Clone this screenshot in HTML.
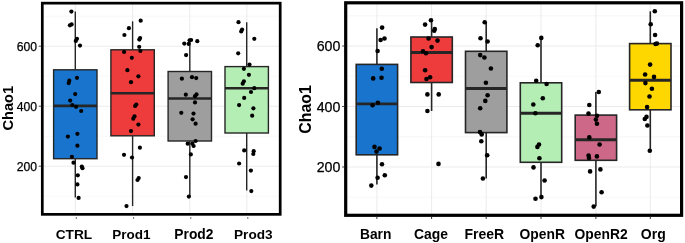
<!DOCTYPE html>
<html lang="en"><head><meta charset="utf-8"><title>Chao1 boxplots</title>
<style>html,body{margin:0;padding:0;background:#fff}svg{display:block}text{font-family:"Liberation Sans",Arial,sans-serif}</style></head><body>
<svg width="685" height="243" viewBox="0 0 685 243">
<rect width="685" height="243" fill="#fff"/>
<line x1="42.3" x2="280.2" y1="196.2" y2="196.2" stroke="#efefef" stroke-width="0.5"/>
<line x1="42.3" x2="280.2" y1="136.2" y2="136.2" stroke="#efefef" stroke-width="0.5"/>
<line x1="42.3" x2="280.2" y1="76.2" y2="76.2" stroke="#efefef" stroke-width="0.5"/>
<line x1="42.3" x2="280.2" y1="16.2" y2="16.2" stroke="#efefef" stroke-width="0.5"/>
<line x1="42.3" x2="280.2" y1="166.2" y2="166.2" stroke="#e6e6e6" stroke-width="0.8"/>
<line x1="42.3" x2="280.2" y1="106.2" y2="106.2" stroke="#e6e6e6" stroke-width="0.8"/>
<line x1="42.3" x2="280.2" y1="46.2" y2="46.2" stroke="#e6e6e6" stroke-width="0.8"/>
<line x1="75.3" x2="75.3" y1="3.15" y2="214.4" stroke="#e6e6e6" stroke-width="0.8"/>
<line x1="132.6" x2="132.6" y1="3.15" y2="214.4" stroke="#e6e6e6" stroke-width="0.8"/>
<line x1="189.8" x2="189.8" y1="3.15" y2="214.4" stroke="#e6e6e6" stroke-width="0.8"/>
<line x1="246.8" x2="246.8" y1="3.15" y2="214.4" stroke="#e6e6e6" stroke-width="0.8"/>
<line x1="345.7" x2="681.6" y1="197.2" y2="197.2" stroke="#efefef" stroke-width="0.5"/>
<line x1="345.7" x2="681.6" y1="136.8" y2="136.8" stroke="#efefef" stroke-width="0.5"/>
<line x1="345.7" x2="681.6" y1="76.2" y2="76.2" stroke="#efefef" stroke-width="0.5"/>
<line x1="345.7" x2="681.6" y1="15.8" y2="15.8" stroke="#efefef" stroke-width="0.5"/>
<line x1="345.7" x2="681.6" y1="167.0" y2="167.0" stroke="#e6e6e6" stroke-width="0.8"/>
<line x1="345.7" x2="681.6" y1="106.5" y2="106.5" stroke="#e6e6e6" stroke-width="0.8"/>
<line x1="345.7" x2="681.6" y1="46.0" y2="46.0" stroke="#e6e6e6" stroke-width="0.8"/>
<line x1="376.9" x2="376.9" y1="2.8" y2="215.3" stroke="#e6e6e6" stroke-width="0.8"/>
<line x1="431.6" x2="431.6" y1="2.8" y2="215.3" stroke="#e6e6e6" stroke-width="0.8"/>
<line x1="486.2" x2="486.2" y1="2.8" y2="215.3" stroke="#e6e6e6" stroke-width="0.8"/>
<line x1="541.0" x2="541.0" y1="2.8" y2="215.3" stroke="#e6e6e6" stroke-width="0.8"/>
<line x1="595.9" x2="595.9" y1="2.8" y2="215.3" stroke="#e6e6e6" stroke-width="0.8"/>
<line x1="650.3" x2="650.3" y1="2.8" y2="215.3" stroke="#e6e6e6" stroke-width="0.8"/>
<line x1="75.3" x2="75.3" y1="11.5" y2="69.8" stroke="#262626" stroke-width="1.4"/>
<line x1="75.3" x2="75.3" y1="158.7" y2="197.6" stroke="#262626" stroke-width="1.4"/>
<rect x="53.6" y="69.8" width="43.4" height="88.9" fill="#1874CD" stroke="#262626" stroke-width="1.4"/>
<line x1="53.6" x2="97.0" y1="105.9" y2="105.9" stroke="#262626" stroke-width="2.6"/>
<line x1="132.6" x2="132.6" y1="21.3" y2="49.8" stroke="#262626" stroke-width="1.4"/>
<line x1="132.6" x2="132.6" y1="135.8" y2="206.0" stroke="#262626" stroke-width="1.4"/>
<rect x="110.9" y="49.8" width="43.4" height="86.0" fill="#EE3B3B" stroke="#262626" stroke-width="1.4"/>
<line x1="110.9" x2="154.3" y1="93.2" y2="93.2" stroke="#262626" stroke-width="2.6"/>
<line x1="189.8" x2="189.8" y1="40.0" y2="71.5" stroke="#262626" stroke-width="1.4"/>
<line x1="189.8" x2="189.8" y1="141.0" y2="196.5" stroke="#262626" stroke-width="1.4"/>
<rect x="168.1" y="71.5" width="43.4" height="69.5" fill="#9E9E9E" stroke="#262626" stroke-width="1.4"/>
<line x1="168.1" x2="211.5" y1="98.5" y2="98.5" stroke="#262626" stroke-width="2.6"/>
<line x1="246.7" x2="246.7" y1="22.2" y2="66.6" stroke="#262626" stroke-width="1.4"/>
<line x1="246.7" x2="246.7" y1="133.0" y2="190.4" stroke="#262626" stroke-width="1.4"/>
<rect x="225.0" y="66.6" width="43.4" height="66.4" fill="#B4EEB4" stroke="#262626" stroke-width="1.4"/>
<line x1="225.0" x2="268.4" y1="88.2" y2="88.2" stroke="#262626" stroke-width="2.6"/>
<line x1="376.9" x2="376.9" y1="28.2" y2="64.4" stroke="#262626" stroke-width="1.6"/>
<line x1="376.9" x2="376.9" y1="154.8" y2="184.4" stroke="#262626" stroke-width="1.6"/>
<rect x="356.2" y="64.4" width="41.4" height="90.4" fill="#1874CD" stroke="#262626" stroke-width="1.6"/>
<line x1="356.2" x2="397.6" y1="103.9" y2="103.9" stroke="#262626" stroke-width="2.9"/>
<line x1="431.6" x2="431.6" y1="20.7" y2="37.0" stroke="#262626" stroke-width="1.6"/>
<line x1="431.6" x2="431.6" y1="82.5" y2="111.0" stroke="#262626" stroke-width="1.6"/>
<rect x="410.9" y="37.0" width="41.4" height="45.5" fill="#EE3B3B" stroke="#262626" stroke-width="1.6"/>
<line x1="410.9" x2="452.3" y1="52.5" y2="52.5" stroke="#262626" stroke-width="2.9"/>
<line x1="486.2" x2="486.2" y1="22.2" y2="51.3" stroke="#262626" stroke-width="1.6"/>
<line x1="486.2" x2="486.2" y1="132.6" y2="178.5" stroke="#262626" stroke-width="1.6"/>
<rect x="465.5" y="51.3" width="41.4" height="81.3" fill="#9E9E9E" stroke="#262626" stroke-width="1.6"/>
<line x1="465.5" x2="506.9" y1="88.5" y2="88.5" stroke="#262626" stroke-width="2.9"/>
<line x1="541.0" x2="541.0" y1="37.9" y2="82.8" stroke="#262626" stroke-width="1.6"/>
<line x1="541.0" x2="541.0" y1="162.3" y2="197.5" stroke="#262626" stroke-width="1.6"/>
<rect x="520.3" y="82.8" width="41.4" height="79.5" fill="#B4EEB4" stroke="#262626" stroke-width="1.6"/>
<line x1="520.3" x2="561.7" y1="113.3" y2="113.3" stroke="#262626" stroke-width="2.9"/>
<line x1="595.9" x2="595.9" y1="92.0" y2="115.1" stroke="#262626" stroke-width="1.6"/>
<line x1="595.9" x2="595.9" y1="160.3" y2="206.2" stroke="#262626" stroke-width="1.6"/>
<rect x="575.2" y="115.1" width="41.4" height="45.2" fill="#CD6889" stroke="#262626" stroke-width="1.6"/>
<line x1="575.2" x2="616.6" y1="139.8" y2="139.8" stroke="#262626" stroke-width="2.9"/>
<line x1="650.3" x2="650.3" y1="11.3" y2="43.6" stroke="#262626" stroke-width="1.6"/>
<line x1="650.3" x2="650.3" y1="109.8" y2="150.8" stroke="#262626" stroke-width="1.6"/>
<rect x="629.6" y="43.6" width="41.4" height="66.2" fill="#FFD700" stroke="#262626" stroke-width="1.6"/>
<line x1="629.6" x2="671.0" y1="80.2" y2="80.2" stroke="#262626" stroke-width="2.9"/>
<g fill="#000">
<circle cx="71.4" cy="11.6" r="2.1"/>
<circle cx="69.9" cy="25.3" r="2.1"/>
<circle cx="71.6" cy="24.4" r="2.1"/>
<circle cx="77.0" cy="38.8" r="2.1"/>
<circle cx="75.8" cy="40.9" r="2.1"/>
<circle cx="80" cy="45.6" r="2.1"/>
<circle cx="77" cy="77.8" r="2.1"/>
<circle cx="69.3" cy="80.7" r="2.1"/>
<circle cx="68.7" cy="83.1" r="2.1"/>
<circle cx="75.2" cy="94.1" r="2.1"/>
<circle cx="70.2" cy="100.6" r="2.1"/>
<circle cx="72.3" cy="105" r="2.1"/>
<circle cx="76.1" cy="106.8" r="2.1"/>
<circle cx="81.2" cy="111" r="2.1"/>
<circle cx="67.9" cy="136.6" r="2.1"/>
<circle cx="77.4" cy="133.8" r="2.1"/>
<circle cx="77.4" cy="145.7" r="2.1"/>
<circle cx="71.9" cy="156.8" r="2.1"/>
<circle cx="73.5" cy="162.7" r="2.1"/>
<circle cx="81.8" cy="166.6" r="2.1"/>
<circle cx="82.5" cy="168.2" r="2.1"/>
<circle cx="77.8" cy="175.3" r="2.1"/>
<circle cx="77.4" cy="184.4" r="2.1"/>
<circle cx="78.6" cy="197.9" r="2.1"/>
<circle cx="140.7" cy="20.7" r="2.1"/>
<circle cx="128.9" cy="28.2" r="2.1"/>
<circle cx="124.4" cy="35" r="2.1"/>
<circle cx="140.1" cy="38.0" r="2.1"/>
<circle cx="139.3" cy="39.6" r="2.1"/>
<circle cx="139.2" cy="46.8" r="2.1"/>
<circle cx="124.1" cy="51.9" r="2.1"/>
<circle cx="140.4" cy="51" r="2.1"/>
<circle cx="131.8" cy="57.8" r="2.1"/>
<circle cx="127.4" cy="70.2" r="2.1"/>
<circle cx="138.4" cy="76.3" r="2.1"/>
<circle cx="131" cy="82.2" r="2.1"/>
<circle cx="136.3" cy="104.5" r="2.1"/>
<circle cx="135.1" cy="106" r="2.1"/>
<circle cx="134.5" cy="116.3" r="2.1"/>
<circle cx="133.3" cy="118.7" r="2.1"/>
<circle cx="138.4" cy="124.6" r="2.1"/>
<circle cx="131" cy="131.1" r="2.1"/>
<circle cx="139.9" cy="147.7" r="2.1"/>
<circle cx="124" cy="154.8" r="2.1"/>
<circle cx="132" cy="157.5" r="2.1"/>
<circle cx="138.7" cy="178.1" r="2.1"/>
<circle cx="137.5" cy="180" r="2.1"/>
<circle cx="126.5" cy="206.1" r="2.1"/>
<circle cx="189.6" cy="40.3" r="2.1"/>
<circle cx="191.1" cy="40" r="2.1"/>
<circle cx="184.3" cy="43.6" r="2.1"/>
<circle cx="188.7" cy="43.9" r="2.1"/>
<circle cx="197.3" cy="41.2" r="2.1"/>
<circle cx="186.1" cy="55.1" r="2.1"/>
<circle cx="181.9" cy="78.7" r="2.1"/>
<circle cx="192" cy="77.2" r="2.1"/>
<circle cx="196.2" cy="78.1" r="2.1"/>
<circle cx="185.8" cy="94.7" r="2.1"/>
<circle cx="196.5" cy="94.4" r="2.1"/>
<circle cx="195" cy="96.2" r="2.1"/>
<circle cx="195" cy="102.4" r="2.1"/>
<circle cx="181.3" cy="112.8" r="2.1"/>
<circle cx="193.5" cy="113.6" r="2.1"/>
<circle cx="192.6" cy="119.3" r="2.1"/>
<circle cx="195.6" cy="123.7" r="2.1"/>
<circle cx="195.6" cy="141" r="2.1"/>
<circle cx="187.7" cy="143.7" r="2.1"/>
<circle cx="192.4" cy="143.7" r="2.1"/>
<circle cx="193.6" cy="146" r="2.1"/>
<circle cx="190.8" cy="154.4" r="2.1"/>
<circle cx="186.0" cy="177.1" r="2.1"/>
<circle cx="188.9" cy="196.6" r="2.1"/>
<circle cx="238.5" cy="22.2" r="2.1"/>
<circle cx="242.1" cy="29.6" r="2.1"/>
<circle cx="241.2" cy="31.4" r="2.1"/>
<circle cx="254.3" cy="38.8" r="2.1"/>
<circle cx="238.2" cy="53.3" r="2.1"/>
<circle cx="249.5" cy="64.6" r="2.1"/>
<circle cx="243.9" cy="68.8" r="2.1"/>
<circle cx="248.9" cy="74.8" r="2.1"/>
<circle cx="243.9" cy="81.3" r="2.1"/>
<circle cx="242.7" cy="83.7" r="2.1"/>
<circle cx="254.3" cy="88.2" r="2.1"/>
<circle cx="251" cy="92" r="2.1"/>
<circle cx="244.2" cy="97.9" r="2.1"/>
<circle cx="239.1" cy="105.1" r="2.1"/>
<circle cx="253.4" cy="108.3" r="2.1"/>
<circle cx="252.2" cy="115.7" r="2.1"/>
<circle cx="244.2" cy="150.4" r="2.1"/>
<circle cx="253.7" cy="151.2" r="2.1"/>
<circle cx="253.3" cy="154" r="2.1"/>
<circle cx="239.1" cy="163.5" r="2.1"/>
<circle cx="250.9" cy="170.6" r="2.1"/>
<circle cx="251.3" cy="191.1" r="2.1"/>
<circle cx="382.1" cy="27.6" r="2.3"/>
<circle cx="384.5" cy="38.5" r="2.3"/>
<circle cx="380.6" cy="40" r="2.3"/>
<circle cx="377.6" cy="51" r="2.3"/>
<circle cx="381.8" cy="68.8" r="2.3"/>
<circle cx="373.2" cy="78.4" r="2.3"/>
<circle cx="381.5" cy="77.8" r="2.3"/>
<circle cx="377.9" cy="102.7" r="2.3"/>
<circle cx="372.6" cy="105.3" r="2.3"/>
<circle cx="374.5" cy="146.9" r="2.3"/>
<circle cx="379.6" cy="148.5" r="2.3"/>
<circle cx="376.5" cy="151.6" r="2.3"/>
<circle cx="382" cy="164.3" r="2.3"/>
<circle cx="384.8" cy="175.3" r="2.3"/>
<circle cx="377.6" cy="177.7" r="2.3"/>
<circle cx="371.3" cy="185.6" r="2.3"/>
<circle cx="431" cy="20.2" r="2.3"/>
<circle cx="425.1" cy="24.6" r="2.3"/>
<circle cx="434.8" cy="29" r="2.3"/>
<circle cx="434.2" cy="30.8" r="2.3"/>
<circle cx="428.6" cy="38.5" r="2.3"/>
<circle cx="437.5" cy="40.6" r="2.3"/>
<circle cx="431.6" cy="47.1" r="2.3"/>
<circle cx="423" cy="51.3" r="2.3"/>
<circle cx="426" cy="53.3" r="2.3"/>
<circle cx="425.1" cy="70.2" r="2.3"/>
<circle cx="430.1" cy="77.2" r="2.3"/>
<circle cx="426.5" cy="79" r="2.3"/>
<circle cx="427.4" cy="94.4" r="2.3"/>
<circle cx="438.7" cy="94.4" r="2.3"/>
<circle cx="427.4" cy="111" r="2.3"/>
<circle cx="438.5" cy="163.9" r="2.3"/>
<circle cx="484.7" cy="22.2" r="2.3"/>
<circle cx="480.5" cy="38.2" r="2.3"/>
<circle cx="487.6" cy="41.5" r="2.3"/>
<circle cx="480.2" cy="55.1" r="2.3"/>
<circle cx="484.4" cy="57.5" r="2.3"/>
<circle cx="490.9" cy="68.5" r="2.3"/>
<circle cx="485.9" cy="82.8" r="2.3"/>
<circle cx="487.6" cy="95.3" r="2.3"/>
<circle cx="485.3" cy="100.9" r="2.3"/>
<circle cx="480.2" cy="108.3" r="2.3"/>
<circle cx="480" cy="132.1" r="2.3"/>
<circle cx="481.7" cy="134.4" r="2.3"/>
<circle cx="481.3" cy="141.3" r="2.3"/>
<circle cx="487.2" cy="155.2" r="2.3"/>
<circle cx="482.9" cy="178.5" r="2.3"/>
<circle cx="541.3" cy="37.9" r="2.3"/>
<circle cx="537.7" cy="45.3" r="2.3"/>
<circle cx="536.2" cy="80.7" r="2.3"/>
<circle cx="546.6" cy="84" r="2.3"/>
<circle cx="542.8" cy="98.2" r="2.3"/>
<circle cx="533.3" cy="104.5" r="2.3"/>
<circle cx="535.4" cy="113.3" r="2.3"/>
<circle cx="539" cy="144.5" r="2.3"/>
<circle cx="537.4" cy="146.9" r="2.3"/>
<circle cx="539.4" cy="158.3" r="2.3"/>
<circle cx="533.5" cy="167.4" r="2.3"/>
<circle cx="544.6" cy="180.5" r="2.3"/>
<circle cx="541.4" cy="197.1" r="2.3"/>
<circle cx="535.5" cy="198.7" r="2.3"/>
<circle cx="598.8" cy="92" r="2.3"/>
<circle cx="589.3" cy="105" r="2.3"/>
<circle cx="588.5" cy="113.6" r="2.3"/>
<circle cx="597" cy="115.7" r="2.3"/>
<circle cx="595.9" cy="119.6" r="2.3"/>
<circle cx="597" cy="123.7" r="2.3"/>
<circle cx="589.3" cy="137.4" r="2.3"/>
<circle cx="599.6" cy="144.5" r="2.3"/>
<circle cx="588.6" cy="155.6" r="2.3"/>
<circle cx="589" cy="158" r="2.3"/>
<circle cx="596.9" cy="156.4" r="2.3"/>
<circle cx="590.1" cy="171.4" r="2.3"/>
<circle cx="600.4" cy="169.4" r="2.3"/>
<circle cx="601.6" cy="192.3" r="2.3"/>
<circle cx="593.7" cy="206.6" r="2.3"/>
<circle cx="654.8" cy="11.3" r="2.3"/>
<circle cx="650.7" cy="24.3" r="2.3"/>
<circle cx="655.1" cy="35" r="2.3"/>
<circle cx="656.9" cy="43.6" r="2.3"/>
<circle cx="655.5" cy="44" r="2.3"/>
<circle cx="650.1" cy="64.6" r="2.3"/>
<circle cx="645.1" cy="74.5" r="2.3"/>
<circle cx="654" cy="76.9" r="2.3"/>
<circle cx="645.4" cy="83.1" r="2.3"/>
<circle cx="651.9" cy="88.7" r="2.3"/>
<circle cx="649.5" cy="96.5" r="2.3"/>
<circle cx="647.1" cy="107.1" r="2.3"/>
<circle cx="646.5" cy="116.9" r="2.3"/>
<circle cx="644.8" cy="119" r="2.3"/>
<circle cx="647.4" cy="125.5" r="2.3"/>
<circle cx="649.8" cy="150.8" r="2.3"/>
</g>
<rect x="42.3" y="3.15" width="237.9" height="211.2" fill="none" stroke="#000" stroke-width="2.7"/>
<rect x="345.7" y="2.8" width="335.9" height="212.5" fill="none" stroke="#000" stroke-width="3.2"/>
<line x1="38.7" x2="41.1" y1="166.2" y2="166.2" stroke="#333" stroke-width="0.9"/>
<text x="37.0" y="170.6" font-size="12.2" text-anchor="end" fill="#000" stroke="#000" stroke-width="0.25">200</text>
<line x1="38.7" x2="41.1" y1="106.2" y2="106.2" stroke="#333" stroke-width="0.9"/>
<text x="37.0" y="110.6" font-size="12.2" text-anchor="end" fill="#000" stroke="#000" stroke-width="0.25">400</text>
<line x1="38.7" x2="41.1" y1="46.2" y2="46.2" stroke="#333" stroke-width="0.9"/>
<text x="37.0" y="50.6" font-size="12.2" text-anchor="end" fill="#000" stroke="#000" stroke-width="0.25">600</text>
<line x1="342.1" x2="344.5" y1="167.0" y2="167.0" stroke="#333" stroke-width="0.9"/>
<text x="340.3" y="172.1" font-size="14.2" text-anchor="end" fill="#000" stroke="#000" stroke-width="0.25">200</text>
<line x1="342.1" x2="344.5" y1="106.5" y2="106.5" stroke="#333" stroke-width="0.9"/>
<text x="340.3" y="111.6" font-size="14.2" text-anchor="end" fill="#000" stroke="#000" stroke-width="0.25">400</text>
<line x1="342.1" x2="344.5" y1="46.0" y2="46.0" stroke="#333" stroke-width="0.9"/>
<text x="340.3" y="51.1" font-size="14.2" text-anchor="end" fill="#000" stroke="#000" stroke-width="0.25">600</text>
<line x1="76.3" x2="76.3" y1="217.2" y2="218.9" stroke="#444" stroke-width="0.9"/>
<line x1="133.6" x2="133.6" y1="217.2" y2="218.9" stroke="#444" stroke-width="0.9"/>
<line x1="190.8" x2="190.8" y1="217.2" y2="218.9" stroke="#444" stroke-width="0.9"/>
<line x1="247.8" x2="247.8" y1="217.2" y2="218.9" stroke="#444" stroke-width="0.9"/>
<line x1="376.9" x2="376.9" y1="216.8" y2="219.0" stroke="#333" stroke-width="1"/>
<line x1="431.6" x2="431.6" y1="216.8" y2="219.0" stroke="#333" stroke-width="1"/>
<line x1="486.2" x2="486.2" y1="216.8" y2="219.0" stroke="#333" stroke-width="1"/>
<line x1="541.0" x2="541.0" y1="216.8" y2="219.0" stroke="#333" stroke-width="1"/>
<line x1="595.9" x2="595.9" y1="216.8" y2="219.0" stroke="#333" stroke-width="1"/>
<line x1="650.3" x2="650.3" y1="216.8" y2="219.0" stroke="#333" stroke-width="1"/>
<text x="73.9" y="239.1" font-size="13.7" font-weight="bold" text-anchor="middle" fill="#000">CTRL</text>
<text x="131.5" y="239.1" font-size="13.5" font-weight="bold" text-anchor="middle" fill="#000">Prod1</text>
<text x="193.9" y="239.1" font-size="13.8" font-weight="bold" text-anchor="middle" fill="#000">Prod2</text>
<text x="253.3" y="239.1" font-size="13.6" font-weight="bold" text-anchor="middle" fill="#000">Prod3</text>
<text x="375.7" y="239.1" font-size="13.8" font-weight="bold" text-anchor="middle" fill="#000">Barn</text>
<text x="430.9" y="239.1" font-size="13.9" font-weight="bold" text-anchor="middle" fill="#000">Cage</text>
<text x="484.35" y="239.1" font-size="14.0" font-weight="bold" text-anchor="middle" fill="#000">FreeR</text>
<text x="542.3" y="239.1" font-size="13.85" font-weight="bold" text-anchor="middle" fill="#000">OpenR</text>
<text x="601.1" y="239.1" font-size="13.85" font-weight="bold" text-anchor="middle" fill="#000">OpenR2</text>
<text x="653.3" y="239.1" font-size="14.0" font-weight="bold" text-anchor="middle" fill="#000">Org</text>
<text transform="translate(12.6,108.2) rotate(-90)" font-size="14.6" font-weight="bold" text-anchor="middle" fill="#000">Chao1</text>
<text transform="translate(310.7,109.4) rotate(-90)" font-size="15.9" font-weight="bold" text-anchor="middle" fill="#000">Chao1</text>
</svg></body></html>
